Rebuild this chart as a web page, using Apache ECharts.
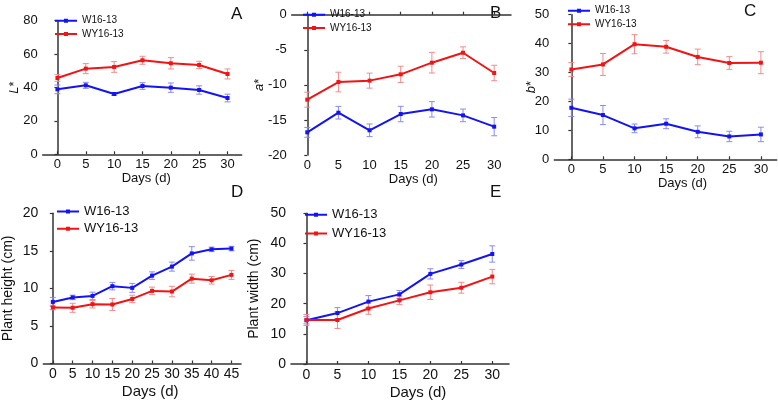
<!DOCTYPE html>
<html><head><meta charset="utf-8">
<script src="https://cdn.jsdelivr.net/npm/echarts@6/dist/echarts.min.js"></script>
<style>html,body{margin:0;padding:0;background:#fff}#c{width:778px;height:404px}</style>
</head><body><div id="c"></div>
<script>
// ---- data ----
const daysTop = [0, 5, 10, 15, 20, 25, 30];
const daysD = [0, 5, 10, 15, 20, 25, 30, 35, 40, 45];
const seriesNames = ['W16-13', 'WY16-13'];

const A_W = [38.9, 41.3, 36.1, 40.9, 39.9, 38.5, 33.7];
const A_W_err = [2.6, 1.8, 0.8, 2.0, 2.8, 2.5, 2.3];
const A_WY = [45.7, 51.3, 52.3, 56.3, 54.5, 53.5, 48.1];
const A_WY_err = [2.0, 3.0, 3.2, 2.4, 3.4, 2.2, 3.0];

const B_W = [-16.77, -13.97, -16.48, -14.16, -13.49, -14.35, -15.96];
const B_W_err = [0.7, 0.9, 0.9, 1.1, 1.1, 0.9, 1.3];
const B_WY = [-12.11, -9.6, -9.4, -8.5, -6.84, -5.42, -8.31];
const B_WY_err = [1.07, 1.4, 1.07, 1.16, 1.47, 0.83, 1.1];

const C_W = [17.8, 15.3, 10.7, 12.3, 9.5, 7.9, 8.6];
const C_W_err = [3.0, 3.3, 1.5, 1.7, 2.05, 1.8, 2.5];
const C_WY = [31.05, 32.8, 39.8, 38.9, 35.4, 33.3, 33.4];
const C_WY_err = [2.4, 3.8, 3.3, 2.2, 2.7, 2.2, 3.8];

const D_W = [8.2, 8.8, 9.0, 10.3, 10.07, 11.7, 12.9, 14.66, 15.2, 15.3];
const D_W_err = [0.6, 0.3, 0.5, 0.5, 0.6, 0.5, 0.6, 0.9, 0.3, 0.3];
const D_WY = [7.46, 7.42, 7.9, 7.86, 8.6, 9.67, 9.58, 11.3, 11.08, 11.8];
const D_WY_err = [0.3, 0.6, 0.5, 0.8, 0.5, 0.5, 0.7, 0.6, 0.5, 0.6];

const E_W = [14.5, 16.9, 20.7, 23.1, 29.9, 33.0, 36.5];
const E_W_err = [1.2, 1.8, 2.0, 1.3, 1.7, 1.3, 2.7];
const E_WY = [14.6, 14.6, 18.4, 21.1, 23.8, 25.3, 29.0];
const E_WY_err = [1.8, 2.8, 1.9, 1.4, 2.4, 1.8, 2.4];

const yTicksA = [0, 80, 20];
const yTicksB = [-20, 0, 5];
const yTicksC = [0, 50, 10];
const yTicksD = [0, 20, 5];
const yTicksE = [0, 50, 10];

// ---- styling ----
const FONT = 'Liberation Sans, Arial, sans-serif';
const BLUE = '#1414f2', RED = '#f21414';
const BLUE_E = '#8a8af6', RED_E = '#f68a8a';
const AX = '#333';
const LEG_ICON = 'path://M0,1 L9,1 L9,0 L13,0 L13,1 L22,1 L22,3 L13,3 L13,4 L9,4 L9,3 L0,3 Z';

const panels = [
  {grid:{left:42.7, top:20.7, width:199, height:133.6}, xr:[-2.6,32.5], days:daysTop, y:yTicksA,
   W:A_W, We:A_W_err, WY:A_WY, WYe:A_WY_err, yname:'{i|L}*', fs:13, xoff:4, ygap:22, xgap:17,
   legend:{left:55, top:15.7, gap:3.3, fs:10}},
  {grid:{left:291.7, top:14.7, width:219.3, height:140.3}, xr:[-2.5,32.7], days:daysTop, y:yTicksB,
   W:B_W, We:B_W_err, WY:B_WY, WYe:B_WY_err, yname:'{i|a}*', fs:13, xoff:12, ygap:26, xgap:17,
   legend:{left:303, top:9.7, gap:3.3, fs:10}},
  {grid:{left:554.3, top:14.7, width:222.4, height:144.6}, xr:[-2.7,32.5], days:daysTop, y:yTicksC,
   W:C_W, We:C_W_err, WY:C_WY, WYe:C_WY_err, yname:'{i|b}*', fs:13, xoff:17, ygap:16, xgap:17,
   legend:{left:568, top:5.7, gap:3.6, fs:10}},
  {grid:{left:43.3, top:213.3, width:197.7, height:150.2}, xr:[-2.4,47.4], days:daysD, y:yTicksD,
   W:D_W, We:D_W_err, WY:D_WY, WYe:D_WY_err, yname:'Plant height (cm)', fs:14, xoff:8, ygap:28, xgap:21,
   legend:{left:57, top:205, gap:4.3, fs:13}},
  {grid:{left:291, top:213.3, width:218, height:150.7}, xr:[-2.5,32.7], days:daysTop, y:yTicksE,
   W:E_W, We:E_W_err, WY:E_WY, WYe:E_WY_err, yname:'Plant width (cm)', fs:14, xoff:18, ygap:30, xgap:21,
   legend:{left:305, top:208.3, gap:5.7, fs:13}}
];

function errRenderer(color) {
  return function (params, api) {
    const x = api.value(0), y = api.value(1), e = api.value(2);
    const t = api.coord([x, y + e]), b = api.coord([x, y - e]);
    const c = 3;
    const st = {stroke: color, lineWidth: 1};
    return {type: 'group', children: [
      {type: 'line', shape: {x1: t[0], y1: t[1], x2: b[0], y2: b[1]}, style: st},
      {type: 'line', shape: {x1: t[0] - c, y1: t[1], x2: t[0] + c, y2: t[1]}, style: st},
      {type: 'line', shape: {x1: b[0] - c, y1: b[1], x2: b[0] + c, y2: b[1]}, style: st}
    ]};
  };
}

const grids = [], xAxes = [], yAxes = [], series = [], legends = [];
panels.forEach((p, i) => {
  const top = i < 3;
  grids.push(Object.assign({containLabel: false}, p.grid));
  xAxes.push({
    type: 'value', gridIndex: i, min: p.xr[0], max: p.xr[1],
    name: 'Days (d)', nameLocation: 'middle', nameGap: p.xgap,
    nameTextStyle: {fontFamily: FONT, fontSize: top ? 13 : 15, color: '#111', padding: [0, 0, 0, 2 * p.xoff]},
    axisLine: {lineStyle: {color: AX, width: 1.5}},
    axisTick: {inside: true, length: 3, customValues: p.days, lineStyle: {color: AX, width: 1.2}},
    axisLabel: {customValues: p.days, margin: 4, fontFamily: FONT, fontSize: p.fs, color: '#111'},
    splitLine: {show: false}
  });
  yAxes.push({
    type: 'value', gridIndex: i, min: p.y[0], max: p.y[1], interval: p.y[2],
    name: p.yname, nameLocation: 'middle', nameGap: p.ygap, nameMoveOverlap: false,
    nameTextStyle: {fontFamily: FONT, fontSize: top ? 13 : 14, color: '#111',
      rich: {i: {fontStyle: 'italic', fontFamily: FONT, fontSize: 13, color: '#111'}}},
    axisLine: {show: true, lineStyle: {color: AX, width: 1.5}},
    axisTick: {show: true, length: 3, lineStyle: {color: AX, width: 1.2}},
    axisLabel: {margin: 5, fontFamily: FONT, fontSize: p.fs, color: '#111'},
    splitLine: {show: false}
  });
  const mk = (vals) => p.days.map((d, k) => [d, vals[k]]);
  const mke = (vals, errs) => p.days.map((d, k) => [d, vals[k], errs[k]]);
  series.push({type: 'custom', name: 'errW' + i, xAxisIndex: i, yAxisIndex: i,
    renderItem: errRenderer(BLUE_E), data: mke(p.W, p.We), encode: {x: 0, y: 1}, z: 1, silent: true});
  series.push({type: 'custom', name: 'errWY' + i, xAxisIndex: i, yAxisIndex: i,
    renderItem: errRenderer(RED_E), data: mke(p.WY, p.WYe), encode: {x: 0, y: 1}, z: 1, silent: true});
  series.push({type: 'line', name: seriesNames[0], xAxisIndex: i, yAxisIndex: i, data: mk(p.W),
    symbol: 'rect', symbolSize: 4, lineStyle: {color: BLUE, width: 2}, itemStyle: {color: BLUE},
    z: 3, animation: false});
  series.push({type: 'line', name: seriesNames[1], xAxisIndex: i, yAxisIndex: i, data: mk(p.WY),
    symbol: 'rect', symbolSize: 4, lineStyle: {color: RED, width: 2}, itemStyle: {color: RED},
    z: 3, animation: false});
  legends.push({
    data: seriesNames.map(n => ({name: n, icon: LEG_ICON})), orient: 'vertical',
    left: p.legend.left, top: p.legend.top,
    itemWidth: 22, itemHeight: 4, itemGap: p.legend.gap, padding: 0,
    textStyle: {fontFamily: FONT, fontSize: p.legend.fs, lineHeight: top ? 10 : 12, color: '#111'},
    selectedMode: false
  });
});

const letters = [['A', 231, 6], ['B', 490, 5], ['C', 744, 3], ['D', 231, 184], ['E', 490, 184]];
const graphic = letters.map(l => ({type: 'text', left: l[1], top: l[2],
  style: {text: l[0], font: '17px ' + FONT, fill: '#111'}}));

const chart = echarts.init(document.getElementById('c'), null, {renderer: 'canvas'});
chart.setOption({
  animation: false, backgroundColor: '#fff',
  grid: grids, xAxis: xAxes, yAxis: yAxes, series: series, legend: legends, graphic: graphic
});
</script></body></html>
